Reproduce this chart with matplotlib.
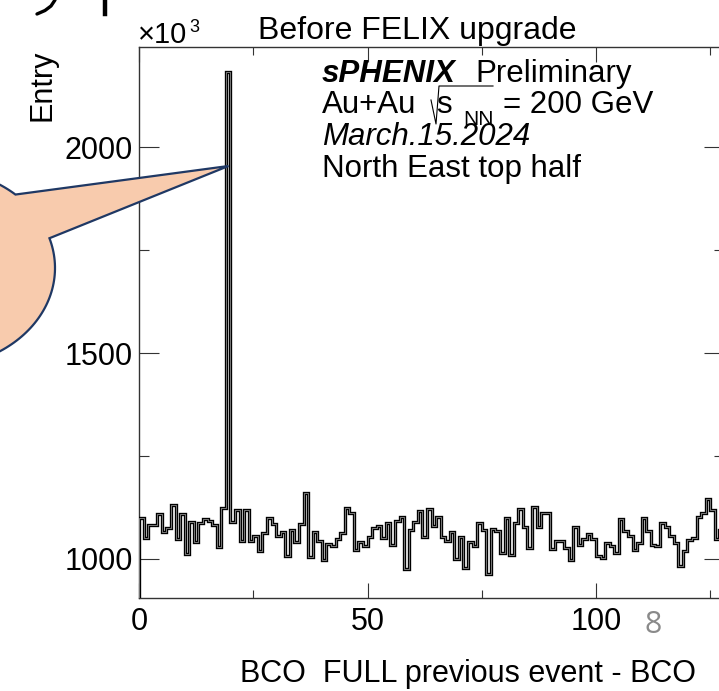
import numpy as np
import matplotlib.pyplot as plt
from matplotlib.patches import Polygon
from matplotlib.lines import Line2D

plt.rcParams['font.family'] = ['Liberation Sans', 'DejaVu Sans']

# BCO difference histogram, entries in units of 10^3
bco_edges = np.arange(0, 129)
entries_k = [1100, 1050, 1082, 1082, 1109, 1066, 1074, 1131, 1048, 1109,
             1011, 1089, 1042, 1086, 1097, 1092, 1083, 1029, 1123, 2182,
             1090, 1119, 1043, 1119, 1043, 1055, 1019, 1062, 1098, 1085,
             1055, 1066, 1006, 1070, 1040, 1085, 1161, 1004, 1065, 1043,
             998, 1035, 1032, 1048, 1062, 1123, 1111, 1021, 1042, 1031,
             1054, 1075, 1080, 1050, 1087, 1034, 1093, 1102, 974, 1069,
             1090, 1115, 1052, 1122, 1080, 1102, 1054, 1044, 1064, 1000,
             1054, 977, 1042, 1031, 1086, 1070, 963, 1072, 1068, 1013,
             1098, 1009, 1086, 1121, 1077, 1027, 1125, 1078, 1111, 1111,
             1023, 1043, 1043, 1027, 997, 1077, 1034, 1048, 1060, 1048,
             1007, 1003, 1039, 1032, 1013, 1097, 1068, 1056, 1021, 1038,
             1100, 1068, 1034, 1031, 1086, 1077, 1056, 1039, 983, 1019,
             1046, 1051, 1101, 1112, 1145, 1119, 1048, 1070]

x_major = [0, 50, 100]
x_minor = [25, 75, 125]
y_major = [1000, 1500, 2000]
y_minor = [1250, 1750]

W, H = 719, 691


def fx(px):
    return px / W


def fy(py):
    return 1 - py / H


fig = plt.figure(figsize=(W / 100, H / 100), dpi=100)
ax = fig.add_axes([fx(139), fy(598), (724 - 139) / W, (598 - 46.7) / H])

# ROOT-style line: black with a faint light core
ax.stairs(entries_k, bco_edges, color='black', linewidth=2.4, zorder=3)
ax.stairs(entries_k, bco_edges, color='#a8a8a8', linewidth=0.5, zorder=4)

ax.set_xlim(0, 128)
ax.set_ylim(904.7, 2244.5)
ax.set_xticks(x_major)
ax.set_xticks(x_minor, minor=True)
ax.set_yticks(y_major)
ax.set_yticks(y_minor, minor=True)
ax.tick_params(axis='both', which='both', direction='in', top=True, right=True,
               width=0.8, color='#333333', labelsize=22)
ax.tick_params(axis='x', which='major', length=11, pad=6.5)
ax.tick_params(axis='x', which='minor', length=5.8)
ax.tick_params(axis='y', which='major', length=14.4, pad=4.3)
ax.tick_params(axis='y', which='minor', length=7.2)
for s in ax.spines.values():
    s.set_linewidth(1.0)
    s.set_color('#333333')

# axis titles and exponent
fig.text(fx(42), fy(50), 'Entry', rotation=90, ha='center', va='top', fontsize=22)
fig.text(fx(240), fy(682), 'BCO  FULL previous event - BCO', fontsize=22,
         ha='left', va='baseline')
fig.text(fx(138), fy(43), '\u00d710', fontsize=21, ha='left', va='baseline')
fig.text(fx(189), fy(32), '3', fontsize=13, ha='left', va='baseline')
fig.text(fx(258), fy(38.5), 'Before FELIX upgrade', fontsize=23,
         ha='left', va='baseline')

# sPHENIX label block
fig.text(fx(322), fy(82), 'sPHENIX', fontsize=22.5, fontweight='bold',
         fontstyle='italic', ha='left', va='baseline')
fig.text(fx(475), fy(82), 'Preliminary', fontsize=22.5, ha='left', va='baseline')
fig.text(fx(322), fy(113), 'Au+Au', fontsize=22.5, ha='left', va='baseline')
fig.add_artist(Line2D([fx(431), fx(436), fx(439), fx(493)],
                      [fy(100), fy(124), fy(86), fy(86)],
                      color='black', linewidth=0.8))
fig.text(fx(436), fy(113), 's', fontsize=22.5, ha='left', va='baseline')
fig.text(fx(463), fy(125), 'NN', fontsize=15, ha='left', va='baseline')
fig.text(fx(503), fy(113), '= 200 GeV', fontsize=22.5, ha='left', va='baseline')
fig.text(fx(322), fy(145), 'March.15.2024', fontsize=22.5, fontstyle='italic',
         ha='left', va='baseline')
fig.text(fx(322), fy(177), 'North East top half', fontsize=22.5,
         ha='left', va='baseline')

# callout bubble pointing at the spike
cx, cy, a, b = -65, 268, 120, 99
t = np.radians(np.linspace(17.5, 47.9 - 360, 200))
arc_x = cx + a * np.cos(t)
arc_y = cy - b * np.sin(t)
bx = np.concatenate([[228.5], arc_x])
by = np.concatenate([[166], arc_y])
bubble = Polygon(np.column_stack([fx(bx), fy(by)]), closed=True,
                 facecolor='#f8cbad', edgecolor='#1f3864', linewidth=1.6,
                 transform=fig.transFigure, zorder=5)
fig.add_artist(bubble)

# bits of slide text above the plot
fig.add_artist(Line2D([fx(55), fx(51), fx(45), fx(37)],
                      [fy(0), fy(6), fy(10.5), fy(14)],
                      color='black', linewidth=2.4, solid_capstyle='round'))
fig.add_artist(Line2D([fx(104.5), fx(104.5)], [fy(0), fy(14)],
                      color='black', linewidth=3.2))

# slide number
fig.text(fx(644), fy(633), '8', fontsize=22, color='#8a8a8a',
         family=['Open Sans', 'DejaVu Sans'],
         ha='left', va='baseline')

fig.savefig('out.png', dpi=100)
